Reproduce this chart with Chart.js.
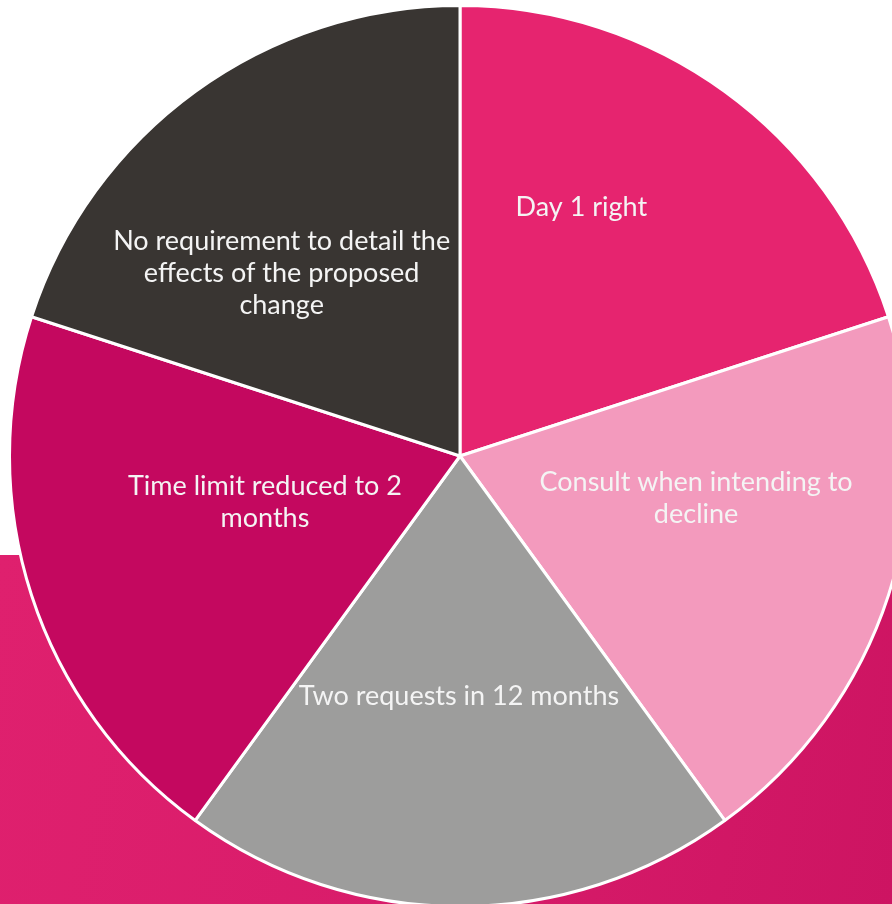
<!DOCTYPE html>
<html>
<head>
<meta charset="utf-8">
<script src="https://cdn.jsdelivr.net/npm/chart.js@4/dist/chart.umd.min.js"></script>
<style>
    html, body { margin: 0; padding: 0; width: 892px; height: 904px; overflow: hidden; background: #fff; }
    #band {
        position: absolute; left: 0; top: 555px; width: 892px; height: 349px;
        background: linear-gradient(100deg, #DF206E 0%, #D81C6A 50%, #CD1462 100%);
    }
    #wrap { position: absolute; left: 8px; top: 4px; width: 904px; height: 904px; }
</style>
</head>
<body>
<div id="band"></div>
<div id="wrap"><canvas id="chart-pie" width="904" height="904"></canvas></div>
<script>
// categorias (cada linha do rótulo como no original)
const categorias = [
    ['Day 1 right'],
    ['Consult when intending to', 'decline'],
    ['Two requests in 12 months'],
    ['Time limit reduced to 2', 'months'],
    ['No requirement to detail the', 'effects of the proposed', 'change']
];
const valores = [20, 20, 20, 20, 20];
const cores = ['#E6246F', '#F39ABD', '#9D9D9C', '#C4085F', '#393532'];

// rótulos dentro das fatias, com pequenos ajustes de posição
const rotulosFatias = {
    id: 'rotulosFatias',
    afterDatasetsDraw(chart, args, opts) {
        const ctx = chart.ctx;
        const meta = chart.getDatasetMeta(0);
        ctx.save();
        ctx.font = opts.font;
        ctx.fillStyle = opts.color;
        ctx.textAlign = 'center';
        ctx.textBaseline = 'middle';
        meta.data.forEach(function (arc, i) {
            const p = arc.getProps(['x', 'y', 'startAngle', 'endAngle', 'outerRadius']);
            const mid = (p.startAngle + p.endAngle) / 2;
            const r = p.outerRadius * opts.raio;
            const ajuste = opts.ajustes[i] || [0, 0];
            const cx = p.x + Math.cos(mid) * r + ajuste[0];
            const cy = p.y + Math.sin(mid) * r + ajuste[1];
            const linhas = chart.data.labels[i];
            const topo = cy - (linhas.length - 1) * opts.linha / 2;
            linhas.forEach(function (t, j) {
                ctx.fillText(t, cx, topo + j * opts.linha);
            });
        });
        ctx.restore();
    }
};

new Chart(document.getElementById('chart-pie').getContext('2d'), {
    type: 'pie',
    data: {
        labels: categorias,
        datasets: [{
            data: valores,
            backgroundColor: cores,
            borderColor: '#FFFFFF',
            borderWidth: 3
        }]
    },
    options: {
        responsive: false,
        animation: false,
        layout: { padding: 0 },
        plugins: {
            legend: { display: false },
            tooltip: { enabled: false },
            rotulosFatias: {
                font: "27px Lato, 'Open Sans', sans-serif",
                color: '#F4F4F4',
                raio: 0.53,
                linha: 32,
                ajustes: [[-19, -56], [9, -31], [-1, 2], [32, -27], [-38, 10]]
            }
        }
    },
    plugins: [rotulosFatias]
});
</script>
</body>
</html>
